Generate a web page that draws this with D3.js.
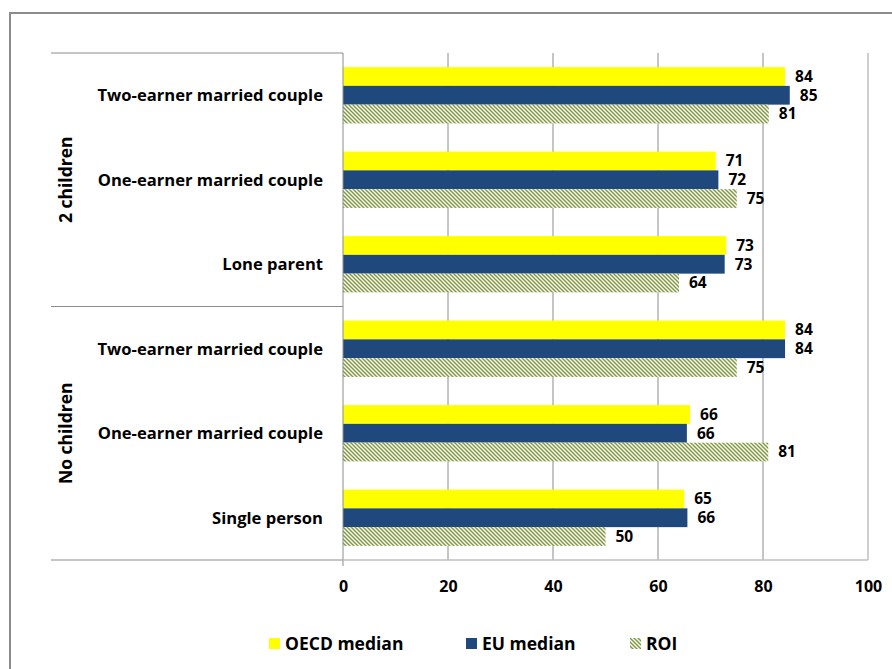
<!DOCTYPE html>
<html>
<head>
<meta charset="utf-8">
<script src="https://cdn.jsdelivr.net/npm/d3@7"></script>
<style>
  body { margin: 0; background: #fff; }
  text { font-family: "Open Sans", sans-serif; font-weight: bold; fill: #000; }
</style>
</head>
<body>
<div id="chart"></div>
<script>
// chart data, top row first
const groups = ['2 children', 'No children'];
const categories = [
  'Two-earner married couple', 'One-earner married couple', 'Lone parent',
  'Two-earner married couple', 'One-earner married couple', 'Single person'
];
const categoryGroup = [0, 0, 0, 1, 1, 1];
const seriesNames = ['OECD median', 'EU median', 'ROI'];
const oecd = [84.2, 71.0, 73.0, 84.2, 66.1, 65.0];
const eu = [85.1, 71.5, 72.7, 84.2, 65.5, 65.6];
const roi = [81.1, 75.0, 64.0, 75.0, 81.0, 50.0];
const xTicks = [0, 20, 40, 60, 80, 100];

const series = [oecd, eu, roi];

const width = 892, height = 669;
const margin = {top: 53, right: 24, bottom: 109, left: 343};
const labelLeft = 51;

const svg = d3.select('#chart').append('svg')
  .attr('width', width)
  .attr('height', height);

// hatch for ROI
const defs = svg.append('defs');
const pat = defs.append('pattern')
  .attr('id', 'hatch')
  .attr('patternUnits', 'userSpaceOnUse')
  .attr('width', 4).attr('height', 4);
pat.append('rect').attr('width', 4).attr('height', 4).attr('fill', '#fff');
pat.append('path')
  .attr('d', 'M-1,-1 L5,5 M-1,3 L1,5 M3,-1 L5,1')
  .attr('stroke', '#7f9a3e')
  .attr('stroke-width', 1.5);

const fills = ['#ffff00', '#1f497d', 'url(#hatch)'];

// outer frame (cut off on the right and bottom)
svg.append('rect')
  .attr('x', 10).attr('y', 13)
  .attr('width', 900).attr('height', 700)
  .attr('fill', 'none')
  .attr('stroke', '#8c8c8c')
  .attr('stroke-width', 2);

const x = d3.scaleLinear()
  .domain([0, 100])
  .range([margin.left, width - margin.right]);

const y = d3.scaleBand()
  .domain(d3.range(categories.length))
  .range([margin.top, height - margin.bottom]);

const barBand = d3.scaleBand()
  .domain(d3.range(series.length))
  .range([0, y.bandwidth()])
  .paddingOuter(0.75)
  .paddingInner(0);

const plotBottom = height - margin.bottom;

// gridlines
svg.append('g')
  .selectAll('line')
  .data(xTicks.slice(1))
  .enter().append('line')
  .attr('x1', d => x(d)).attr('x2', d => x(d))
  .attr('y1', margin.top).attr('y2', plotBottom)
  .attr('stroke', d => d === 100 ? '#bfbfbf' : '#8c8c8c')
  .attr('stroke-width', d => d === 100 ? 1.5 : 1);

// bars
series.forEach((vals, s) => {
  svg.append('g')
    .selectAll('rect')
    .data(vals)
    .enter().append('rect')
    .attr('x', x(0))
    .attr('y', (d, i) => y(i) + barBand(s))
    .attr('width', d => x(d) - x(0))
    .attr('height', barBand.bandwidth())
    .attr('fill', fills[s]);

  svg.append('g')
    .selectAll('text')
    .data(vals)
    .enter().append('text')
    .attr('x', d => x(d) + 10)
    .attr('y', (d, i) => y(i) + barBand(s) + barBand.bandwidth() / 2)
    .attr('dy', '0.34em')
    .style('font-size', '15.5px')
    .text(d => Math.round(d));
});

// value axis line and bottom line
svg.append('line')
  .attr('x1', x(0)).attr('x2', x(0))
  .attr('y1', margin.top).attr('y2', plotBottom + 6)
  .attr('stroke', '#8c8c8c');
svg.append('line')
  .attr('x1', x(0)).attr('x2', x(100))
  .attr('y1', plotBottom).attr('y2', plotBottom)
  .attr('stroke', '#bfbfbf')
  .attr('stroke-width', 1.5);

const xAxis = d3.axisBottom(x)
  .tickValues(xTicks)
  .tickSize(0)
  .tickPadding(21);
const gx = svg.append('g')
  .attr('transform', `translate(0,${plotBottom})`)
  .call(xAxis);
gx.select('.domain').remove();
gx.selectAll('text')
  .style('font-size', '16px')
  .style('font-family', '"Open Sans", sans-serif');

// category labels
svg.append('g')
  .selectAll('text')
  .data(categories)
  .enter().append('text')
  .attr('x', margin.left - 20)
  .attr('y', (d, i) => y(i) + y.bandwidth() / 2)
  .attr('dy', '0.36em')
  .attr('text-anchor', 'end')
  .style('font-size', '16.6px')
  .text(d => d);

// group dividers and group labels
const groupEdges = [0, 3, 6].map(i => i < categories.length ? y(i) : plotBottom);
svg.append('g')
  .selectAll('line')
  .data(groupEdges)
  .enter().append('line')
  .attr('x1', labelLeft).attr('x2', x(0))
  .attr('y1', d => d).attr('y2', d => d)
  .attr('stroke', '#8c8c8c');

svg.append('g')
  .selectAll('text')
  .data(groups)
  .enter().append('text')
  .attr('transform', (d, g) => {
    const idx = categoryGroup.map((c, i) => c === g ? i : -1).filter(i => i >= 0);
    const cy = (y(idx[0]) + y(idx[idx.length - 1]) + y.bandwidth()) / 2;
    return `translate(66,${cy}) rotate(-90)`;
  })
  .attr('dy', '0.36em')
  .attr('text-anchor', 'middle')
  .style('font-size', '17.5px')
  .text(d => d);

// legend
const legendX = [269, 466, 630];
const legend = svg.append('g');
seriesNames.forEach((name, s) => {
  legend.append('rect')
    .attr('x', legendX[s]).attr('y', 638)
    .attr('width', 11).attr('height', 11)
    .attr('fill', fills[s]);
  legend.append('text')
    .attr('x', legendX[s] + 16)
    .attr('y', 643.5)
    .attr('dy', '0.36em')
    .style('font-size', '17.5px')
    .text(name);
});
</script>
</body>
</html>
